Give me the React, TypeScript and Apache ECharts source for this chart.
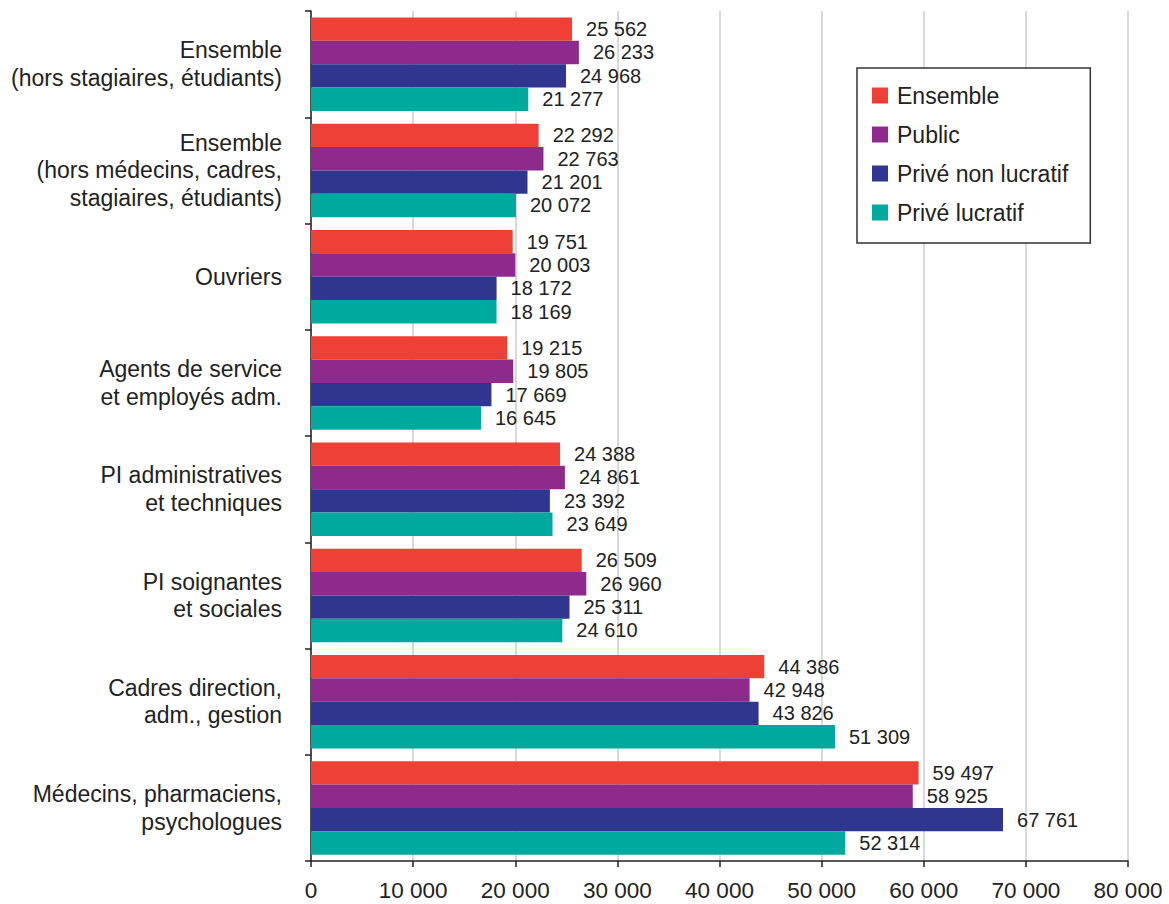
import React, { useEffect, useRef } from "react";
import * as echarts from "echarts";

const categories = [
  "Ensemble\n(hors stagiaires, étudiants)",
  "Ensemble\n(hors médecins, cadres,\nstagiaires, étudiants)",
  "Ouvriers",
  "Agents de service\net employés adm.",
  "PI administratives\net techniques",
  "PI soignantes\net sociales",
  "Cadres direction,\nadm., gestion",
  "Médecins, pharmaciens,\npsychologues",
];

const seriesNames = ["Ensemble", "Public", "Privé non lucratif", "Privé lucratif"];
const colors = ["#EE4035", "#8E2A8C", "#303590", "#00A99D"];

const ensemble = [25562, 22292, 19751, 19215, 24388, 26509, 44386, 59497];
const publicSec = [26233, 22763, 20003, 19805, 24861, 26960, 42948, 58925];
const priveNonLucratif = [24968, 21201, 18172, 17669, 23392, 25311, 43826, 67761];
const priveLucratif = [21277, 20072, 18169, 16645, 23649, 24610, 51309, 52314];

const seriesData = [ensemble, publicSec, priveNonLucratif, priveLucratif];

const fmt = (v: number) =>
  String(Math.round(v)).replace(/\B(?=(\d{3})+(?!\d))/g, " ");

const FONT = "Liberation Sans, Arial, sans-serif";

export default function App() {
  const ref = useRef<HTMLDivElement>(null);
  useEffect(() => {
    if (!ref.current) return;
    const chart = echarts.init(ref.current, undefined, { renderer: "svg" });
    chart.setOption({
      animation: false,
      backgroundColor: "#ffffff",
      textStyle: { fontFamily: FONT },
      grid: { left: 311, right: 41, top: 11, bottom: 43, containLabel: false },
      legend: {
        orient: "vertical",
        left: 857,
        top: 68,
        padding: [16, 22, 19, 15],
        itemWidth: 16,
        itemHeight: 16,
        itemGap: 16,
        borderColor: "#333",
        borderWidth: 1.5,
        backgroundColor: "#fff",
        icon: "rect",
        textStyle: {
          fontSize: 23,
          lineHeight: 23,
          color: "#222",
          fontFamily: FONT,
          padding: [0, 0, 0, 4],
        },
        data: seriesNames,
      },
      xAxis: {
        type: "value",
        min: 0,
        max: 80000,
        interval: 10000,
        axisLine: { show: true, lineStyle: { color: "#222", width: 1.5 } },
        axisTick: { show: true, length: 6, lineStyle: { color: "#222", width: 1.5 } },
        axisLabel: {
          fontSize: 22.5,
          color: "#222",
          margin: 18,
          fontFamily: FONT,
          formatter: (v: number) => fmt(v),
        },
        splitLine: { show: true, lineStyle: { color: "#cccccc", width: 1.5 } },
      },
      yAxis: {
        type: "category",
        inverse: true,
        data: categories,
        axisLine: { show: true, lineStyle: { color: "#222", width: 1.5 } },
        axisTick: { show: true, length: 6, lineStyle: { color: "#222", width: 1.5 } },
        axisLabel: {
          fontSize: 23,
          color: "#222",
          margin: 29,
          lineHeight: 27.5,
          align: "right",
          fontFamily: FONT,
        },
      },
      series: seriesData.map((d, i) => ({
        name: seriesNames[i],
        type: "bar",
        data: d,
        barGap: "0%",
        barCategoryGap: "12%",
        itemStyle: { color: colors[i] },
        label: {
          show: true,
          position: "right",
          distance: 14,
          fontSize: 20,
          color: "#222",
          fontFamily: FONT,
          formatter: (p: any) => fmt(p.value),
        },
      })),
    });
    return () => chart.dispose();
  }, []);
  return <div ref={ref} style={{ width: 1169, height: 904, position: "absolute", left: 0, top: 0 }} />;
}
